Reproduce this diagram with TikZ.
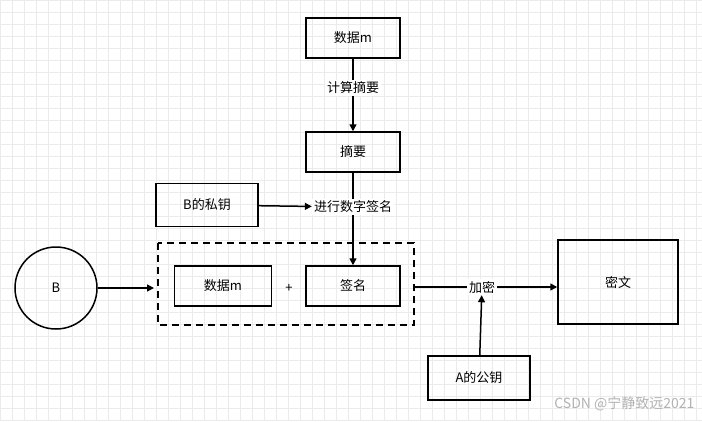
\documentclass[tikz,border=0pt]{standalone}
\usepackage{fontspec}
\setmainfont{Noto Sans CJK SC}
\usetikzlibrary{arrows.meta}
\begin{document}
\begin{tikzpicture}[x=1pt,y=-1pt,
 box/.style={draw,line width=1.5pt,minimum width=94pt,minimum height=40pt,inner sep=0pt,font=\fontsize{13}{15}\selectfont},
 lbl/.style={fill=white,inner sep=2pt,font=\fontsize{13}{15}\selectfont},
 arr/.style={line width=1.5pt,-{Triangle[length=7pt,width=7pt]}}]
\fill[white] (0,0) rectangle (702,421);
\useasboundingbox (0,0) rectangle (702,421);
\draw[black!8,line width=0.4pt,step=12pt] (0,0) grid (702,421);
\node[box] (d) at (353,38) {数据m};
\node[lbl] (calc) at (353,88) {计算摘要};
\node[box] (z) at (353,152) {摘要};
\node[box,minimum width=102pt,minimum height=43pt] (bk) at (207,205) {B的私钥};
\node[lbl] (sign) at (353,207) {进行数字签名};
\draw[line width=1.6pt,dash pattern=on 7pt off 5pt] (158,243) rectangle (414,325);
\coordinate (dl) at (158,288);
\coordinate (dr) at (414,287);
\node[box,minimum width=97pt] (dm) at (223,286) {数据m};
\node[font=\fontsize{13}{15}\selectfont] (plus) at (289,288) {+};
\node[box] (qm) at (353,286) {签名};
\node[draw,circle,line width=1.5pt,minimum size=82pt,font=\fontsize{13}{15}\selectfont] (b) at (56,288) {B};
\node[lbl] (enc) at (482,287) {加密};
\node[box,minimum width=120pt,minimum height=84pt] (mw) at (618,282) {密文};
\node[box,minimum width=102pt,minimum height=44pt] (ak) at (479,378) {A的公钥};
\draw[line width=1.5pt] (d) -- (calc);
\draw[arr] (calc) -- (z);
\draw[line width=1.5pt] (z) -- (sign);
\draw[arr] (sign) -- (qm);
\draw[arr] (bk) -- (sign);
\draw[arr] (b) -- ([xshift=-4pt]dl);
\draw[line width=1.5pt] (dr) -- (enc);
\draw[arr] (enc) -- (mw.west|-enc);
\draw[arr] (ak) -- (enc);
\node[text=black!30,font=\fontsize{14}{16}\selectfont,anchor=east] (wm) at (698,404) {CSDN @宁静致远2021};
\end{tikzpicture}
\end{document}
